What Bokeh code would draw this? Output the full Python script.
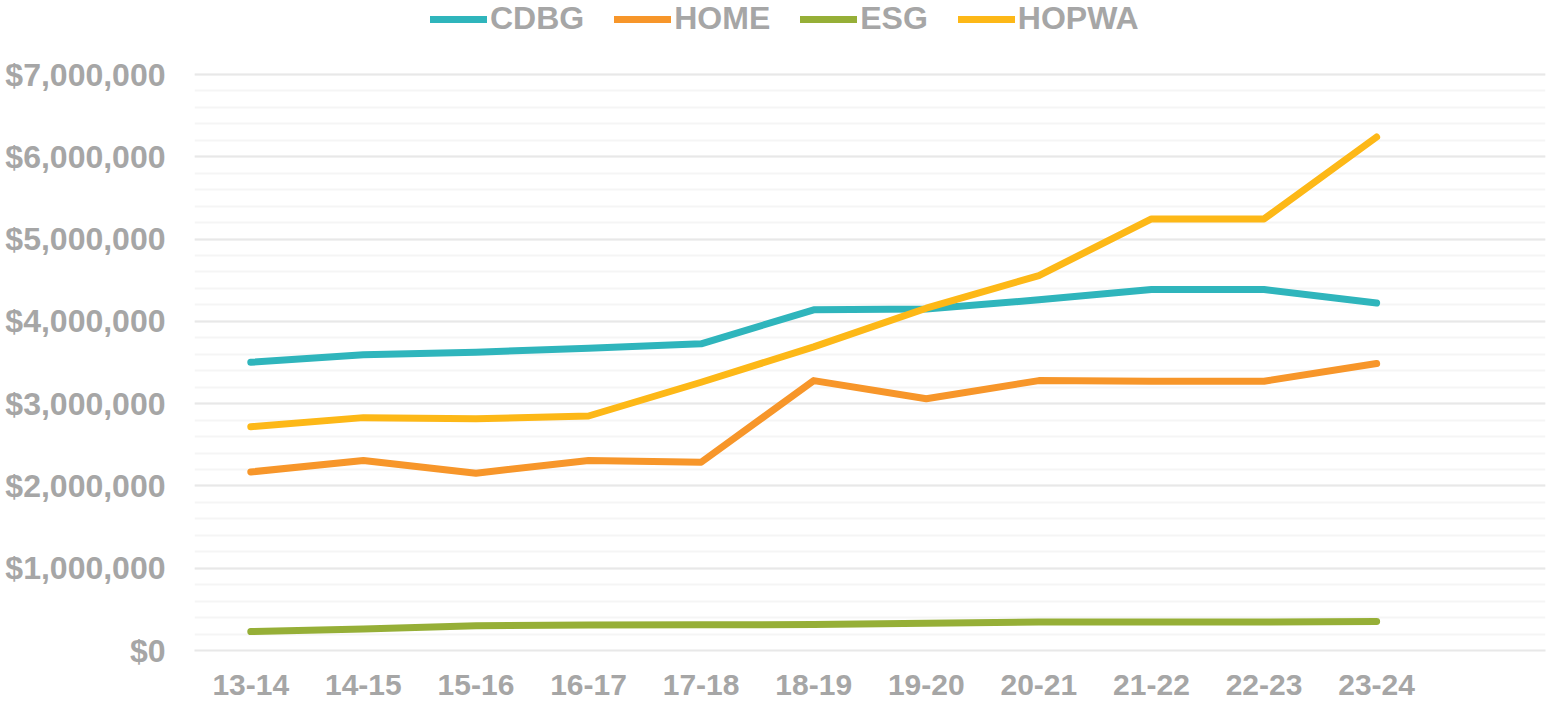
from bokeh.plotting import figure
from bokeh.models import (ColumnDataSource, FixedTicker, NumeralTickFormatter, Legend,
                          LegendItem, Range1d)
from bokeh.embed import file_html
from bokeh.resources import INLINE

categories = ["13-14", "14-15", "15-16", "16-17", "17-18", "18-19",
              "19-20", "20-21", "21-22", "22-23", "23-24"]
cdbg = [3503000, 3593000, 3625000, 3672000, 3727000, 4140000,
        4150000, 4262000, 4386000, 4386000, 4222000]
home = [2170000, 2310000, 2155000, 2310000, 2288000, 3280000,
        3060000, 3280000, 3272000, 3272000, 3487000]
esg = [230000, 262000, 300000, 310000, 312000, 315000,
       330000, 345000, 345000, 345000, 352000]
hopwa = [2720000, 2830000, 2815000, 2850000, 3260000, 3690000,
         4160000, 4556000, 5245000, 5245000, 6240000]
series_names = ["CDBG", "HOME", "ESG", "HOPWA"]
colors = ["#2FB5BC", "#F7962A", "#96AF37", "#FDB817"]
y_major = [0, 1000000, 2000000, 3000000, 4000000, 5000000, 6000000, 7000000]
y_minor = list(range(0, 7000001, 200000))

GRAY = "#A6A6A6"
FONT = "Liberation Sans"

# frame spans the full height above the axis so the legend sits inside it;
# the value axis tops out at 7,000,000 at 74px from the top of the 650px frame
FRAME_H = 650
Y_TOP = 7000000 * FRAME_H / (FRAME_H - 74)

src = ColumnDataSource(dict(x=list(range(len(categories))), CDBG=cdbg, HOME=home,
                            ESG=esg, HOPWA=hopwa))

p = figure(width=1547, height=706, output_backend="svg", toolbar_location=None,
           x_range=Range1d(-0.5, len(categories) + 0.5), y_range=Range1d(0, Y_TOP),
           min_border_left=194, min_border_right=2, min_border_top=0, min_border_bottom=56)
p.outline_line_color = None
p.background_fill_color = "white"
p.border_fill_color = "white"

renderers = []
for name, c in zip(series_names, colors):
    r = p.line("x", name, source=src, line_color=c, line_width=7,
               line_cap="round", line_join="round")
    renderers.append(r)

# axes
p.xaxis.ticker = FixedTicker(ticks=list(range(len(categories))))
p.xaxis.major_label_overrides = {i: c for i, c in enumerate(categories)}
p.yaxis.ticker = FixedTicker(ticks=y_major, minor_ticks=y_minor)
p.yaxis.formatter = NumeralTickFormatter(format="$0,0")
for ax in (p.xaxis[0], p.yaxis[0]):
    ax.major_tick_line_color = None
    ax.minor_tick_line_color = None
    ax.major_tick_out = 0
    ax.major_tick_in = 0
    ax.minor_tick_out = 0
    ax.minor_tick_in = 0
    ax.major_label_text_font = FONT
    ax.major_label_text_font_style = "bold"
    ax.major_label_text_color = GRAY
p.yaxis.axis_line_color = None
p.xaxis.axis_line_color = "#E8E8E8"
p.xaxis.axis_line_width = 2
p.xaxis.major_label_text_font_size = "30px"
p.xaxis.major_label_standoff = 24
p.yaxis.major_label_text_font_size = "32px"
p.yaxis.major_label_standoff = 29

p.xgrid.visible = False
p.ygrid.grid_line_color = "#E8E8E8"
p.ygrid.grid_line_width = 2
p.ygrid.minor_grid_line_color = "#F5F5F5"
p.ygrid.minor_grid_line_width = 2

legend = Legend(items=[LegendItem(label=n, renderers=[r]) for n, r in zip(series_names, renderers)],
                orientation="horizontal", location=(236, 613),
                glyph_width=57, glyph_height=20, label_standoff=3, spacing=30,
                padding=0, margin=0, border_line_color=None, background_fill_alpha=0,
                label_text_font=FONT, label_text_font_style="bold",
                label_text_font_size="32px", label_text_color=GRAY)
p.add_layout(legend)

open("out.html", "w").write(file_html(p, INLINE))
